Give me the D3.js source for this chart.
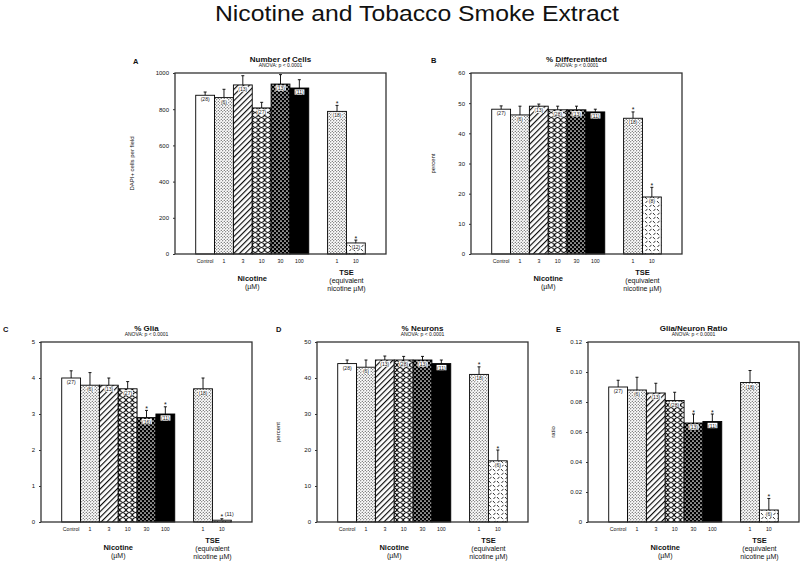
<!DOCTYPE html>
<html><head><meta charset="utf-8">
<script src="https://cdn.jsdelivr.net/npm/d3@7"></script>
<style>body{margin:0;background:#fff} svg{display:block} text{font-family:"Liberation Sans",Arial,Helvetica,sans-serif;fill:#111}</style>
</head><body><svg id="c" width="800" height="564"></svg>
<script>
// ---------- data ----------
const categories = ["Control","1","3","10","30","100","1","10"];
const slots      = [0,1,2,3,4,5,7,8];
const fills      = ["white","stipple","diag","scale","dots","black","stipple","dash"];

const cellsValues = [877,864,934,807,939,917,788,61];
const cellsErrors = [18,46,51,31,52,46,33,16];
const cellsCounts = ["(28)","(6)","(13)","(27)","(13)","(11)","(18)","(12)"];
const cellsSig    = [0,0,0,0,0,0,1,1];
const cellsTicks  = [0,200,400,600,800,1000];

const diffValues = [48.0,46.1,49.0,47.8,47.8,47.1,45.0,18.9];
const diffErrors = [1.1,2.9,0.7,1.2,1.2,0.9,2.1,3.2];
const diffCounts = ["(27)","(6)","(13)","(28)","(13)","(11)","(18)","(8)"];
const diffSig    = [0,0,0,0,0,0,1,1];
const diffTicks  = [0,10,20,30,40,50,60];

const gliaValues = [4.0,3.8,3.8,3.7,2.9,3.0,3.7,0.05];
const gliaErrors = [0.2,0.35,0.2,0.2,0.2,0.2,0.3,0.04];
const gliaCounts = ["(27)","(6)","(13)","(27)","(16)","(11)","(18)","(11)"];
const gliaSig    = [0,0,0,0,1,1,0,1];
const gliaTicks  = [0,1,2,3,4,5];

const neuValues = [44.0,43.0,45.0,45.0,45.0,44.0,41.0,17.0];
const neuErrors = [1.0,2.0,1.1,1.0,1.0,1.0,2.1,3.0];
const neuCounts = ["(28)","(6)","(13)","(28)","(13)","(11)","(18)","(6)"];
const neuSig    = [0,0,0,0,0,0,1,1];
const neuTicks  = [0,10,20,30,40,50];

const ratioValues = [0.090,0.088,0.086,0.081,0.066,0.067,0.093,0.008];
const ratioErrors = [0.0045,0.0085,0.0065,0.0055,0.006,0.005,0.008,0.0077];
const ratioCounts = ["(27)","(6)","(13)","(28)","(13)","(11)","(18)","(6)"];
const ratioSig    = [0,0,0,0,1,1,0,1];
const ratioTicks  = [0,0.02,0.04,0.06,0.08,0.10,0.12];
const ratioTickLabels = ["0","0.02","0.04","0.06","0.08","0.10","0.12"];

// ---------- layout ----------
const panels = [
  {letter:"A", title:"Number of Cells", ylab:"DAPI+ cells per field", values:cellsValues, errors:cellsErrors, counts:cellsCounts, sig:cellsSig, ticks:cellsTicks, labels:cellsTicks.map(String), max:1000,
   left:175, right:386, top:73, bottom:254, lx:133, ly:64, ylx:134, row:0},
  {letter:"B", title:"% Differentiated", ylab:"percent", values:diffValues, errors:diffErrors, counts:diffCounts, sig:diffSig, ticks:diffTicks, labels:diffTicks.map(String), max:60,
   left:471, right:682, top:73, bottom:254, lx:431, ly:63, ylx:435, row:0},
  {letter:"C", title:"% Glia", ylab:"", values:gliaValues, errors:gliaErrors, counts:gliaCounts, sig:gliaSig, ticks:gliaTicks, labels:gliaTicks.map(String), max:5,
   left:41, right:252, top:342, bottom:522, lx:3, ly:332, ylx:0, row:1},
  {letter:"D", title:"% Neurons", ylab:"percent", values:neuValues, errors:neuErrors, counts:neuCounts, sig:neuSig, ticks:neuTicks, labels:neuTicks.map(String), max:50,
   left:317, right:528, top:342, bottom:522, lx:276, ly:332, ylx:280, row:1},
  {letter:"E", title:"Glia/Neuron Ratio", ylab:"ratio", values:ratioValues, errors:ratioErrors, counts:ratioCounts, sig:ratioSig, ticks:ratioTicks, labels:ratioTickLabels, max:0.12,
   left:588, right:799, top:342, bottom:522, lx:556, ly:332, ylx:555, row:1}
];
const rowText = [
  {nic:[280.5,289], tse:[274.5,282.5,290.5]},
  {nic:[549.5,558], tse:[542.5,550.5,558.5]}
];

const svg = d3.select("#c");

// ---------- patterns ----------
const defs = svg.append("defs");
function pat(id,w,h,bg,transform){
  const p = defs.append("pattern").attr("id",id).attr("patternUnits","userSpaceOnUse")
    .attr("width",w).attr("height",h);
  if(transform) p.attr("patternTransform",transform);
  p.append("rect").attr("width",w).attr("height",h).attr("fill",bg);
  return p;
}
{ const p = pat("stipple",3,3,"#fff");
  [[0.75,0.75],[2.25,2.25]].forEach(([cx,cy])=>p.append("circle").attr("cx",cx).attr("cy",cy).attr("r",0.55).attr("fill","#222")); }
{ const p = pat("diag",4,4,"#fff","rotate(45)");
  p.append("line").attr("x1",0.6).attr("x2",0.6).attr("y1",0).attr("y2",4).attr("stroke","#000").attr("stroke-width",1.1); }
{ const p = pat("scale",6.3,5,"#fff");
  p.append("path").attr("d","M0,0 Q3.15,5 6.3,0 M0,5 Q3.15,0 6.3,5").attr("fill","none").attr("stroke","#000").attr("stroke-width",1.1); }
{ const p = pat("dots",4,4,"#000");
  [[1,1],[3,3]].forEach(([cx,cy])=>p.append("circle").attr("cx",cx).attr("cy",cy).attr("r",0.85).attr("fill","#fff")); }
{ const p = pat("dash",8,8,"#fff");
  p.append("path").attr("d","M1,1 L3,3.2 M5,5 L7,7.2 M5.5,3 L7.5,0.8 M1.5,7 L3.5,4.8").attr("fill","none").attr("stroke","#000").attr("stroke-width",0.8); }
const fillOf = f => f==="white" ? "#fff" : f==="black" ? "#000" : `url(#${f})`;

// ---------- title ----------
svg.append("text").attr("x",417).attr("y",20.5).attr("text-anchor","middle")
  .attr("font-size",22).attr("textLength",404).attr("lengthAdjust","spacingAndGlyphs")
  .text("Nicotine and Tobacco Smoke Extract");

// ---------- panels ----------
panels.forEach(p=>{
  const g = svg.append("g");
  const x = d3.scaleLinear().domain([0,11.2]).range([p.left,p.right]);
  const y = d3.scaleLinear().domain([0,p.max]).range([p.bottom,p.top]);
  const bw = x(1)-x(0);
  const data = categories.map((c,i)=>({c,i,slot:slots[i],fill:fills[i],v:p.values[i],e:p.errors[i],n:p.counts[i],s:p.sig[i]}));

  // axis
  const ax = g.append("g").attr("transform",`translate(${p.left},0)`)
    .call(d3.axisLeft(y).tickValues(p.ticks).tickFormat((d,i)=>p.labels[i]).tickSize(2).tickPadding(4));
  ax.select(".domain").remove();
  ax.selectAll("text").attr("font-size",6).attr("font-family",'"Liberation Sans",Arial,sans-serif').attr("fill","#111");
  ax.selectAll("line").attr("stroke","#333");

  // error bars
  const eb = g.selectAll(".eb").data(data).join("g");
  eb.append("line").attr("x1",d=>x(1.6+d.slot)).attr("x2",d=>x(1.6+d.slot))
    .attr("y1",d=>y(d.v)).attr("y2",d=>y(d.v+d.e)).attr("stroke","#000").attr("stroke-width",0.9);
  eb.append("line").attr("x1",d=>x(1.6+d.slot)-1.5).attr("x2",d=>x(1.6+d.slot)+1.5)
    .attr("y1",d=>y(d.v+d.e)).attr("y2",d=>y(d.v+d.e)).attr("stroke","#000").attr("stroke-width",0.9);

  // bars
  g.selectAll(".bar").data(data).join("rect")
    .attr("x",d=>x(1.1+d.slot)).attr("width",bw)
    .attr("y",d=>y(d.v)).attr("height",d=>y(0)-y(d.v))
    .attr("fill",d=>fillOf(d.fill)).attr("stroke","#000").attr("stroke-width",0.9);

  // count labels
  const lg = g.append("g");
  data.forEach(d=>{
    const cx = x(1.6+d.slot);
    const h = y(0)-y(d.v);
    if(h<6){
      lg.append("text").attr("x",cx+3).attr("y",y(d.v+d.e)-2.5).attr("font-size",5.2).text(d.n);
      return;
    }
    const t = lg.append("text").attr("x",cx).attr("y",y(d.v)+6).attr("text-anchor","middle").attr("font-size",5).text(d.n);
    if(d.fill!=="white"){
      const bb = t.node().getBBox();
      lg.insert("rect",()=>t.node()).attr("x",bb.x-0.5).attr("y",bb.y+0.3).attr("width",bb.width+1).attr("height",bb.height-0.6).attr("fill","#fff");
    }
  });

  // stars
  data.filter(d=>d.s).forEach(d=>{
    const cx = x(1.6+d.slot);
    g.append("text").attr("x",cx).attr("y",y(d.v+d.e)+0.5).attr("text-anchor","middle").attr("font-size",7).text("*");
  });

  // frame
  g.append("rect").attr("x",p.left).attr("y",p.top).attr("width",p.right-p.left).attr("height",p.bottom-p.top)
    .attr("fill","none").attr("stroke","#333").attr("stroke-width",1.3);

  // x labels
  data.forEach(d=>{
    g.append("text").attr("x",x(1.6+d.slot)).attr("y",p.bottom+8.5).attr("text-anchor","middle").attr("font-size",5.2).text(d.c);
  });

  // group labels
  const rt = rowText[p.row];
  const nicX = (x(1.1)+x(7.1))/2, tseX = (x(8.1)+x(10.1))/2;
  g.append("text").attr("x",nicX).attr("y",rt.nic[0]).attr("text-anchor","middle").attr("font-size",7.5).attr("font-weight","bold").text("Nicotine");
  g.append("text").attr("x",nicX).attr("y",rt.nic[1]).attr("text-anchor","middle").attr("font-size",7).text("(\u00b5M)");
  g.append("text").attr("x",tseX).attr("y",rt.tse[0]).attr("text-anchor","middle").attr("font-size",7.5).attr("font-weight","bold").text("TSE");
  g.append("text").attr("x",tseX).attr("y",rt.tse[1]).attr("text-anchor","middle").attr("font-size",7).text("(equivalent");
  g.append("text").attr("x",tseX).attr("y",rt.tse[2]).attr("text-anchor","middle").attr("font-size",7).text("nicotine \u00b5M)");

  // titles
  const mx = (p.left+p.right)/2;
  g.append("text").attr("x",mx).attr("y",p.top-11.5).attr("text-anchor","middle").attr("font-size",8).attr("font-weight","bold").text(p.title);
  g.append("text").attr("x",mx).attr("y",p.top-6).attr("text-anchor","middle").attr("font-size",5).text("ANOVA: p < 0.0001");
  g.append("text").attr("x",p.lx).attr("y",p.ly).attr("font-size",7.5).attr("font-weight","bold").text(p.letter);
  if(p.ylab){
    g.append("text").attr("transform",`translate(${p.ylx},${(p.top+p.bottom)/2}) rotate(-90)`).attr("text-anchor","middle").attr("font-size",6).text(p.ylab);
  }
});
</script></body></html>
